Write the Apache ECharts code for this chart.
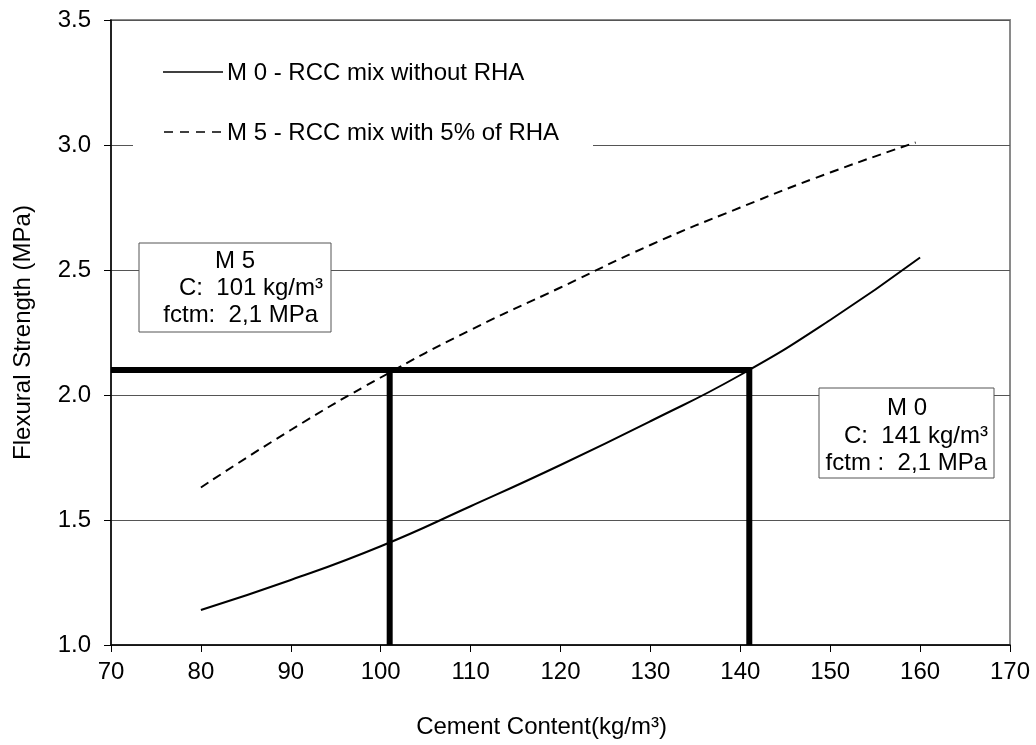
<!DOCTYPE html>
<html>
<head>
<meta charset="utf-8">
<script src="https://cdn.jsdelivr.net/npm/echarts@6/dist/echarts.min.js"></script>
<style>
  html, body { margin: 0; padding: 0; background: #fff; }
  #grafica { width: 1036px; height: 745px; }
</style>
</head>
<body>
<div id="grafica"></div>
<script>
// valores
const cementoM0 = [80, 90, 100, 110, 120, 130, 140, 150, 160];
const resistM0 = [1.14, 1.26, 1.395, 1.555, 1.72, 1.895, 2.08, 2.30, 2.55];
const cementoM5 = [80, 90, 100, 110, 120, 130, 140, 150, 159.5];
const resistM5 = [1.63, 1.86, 2.07, 2.26, 2.43, 2.60, 2.75, 2.89, 3.01];
const fctm = 2.1;
const cM5 = 101;
const cM0 = 141;
const xMin = 70, xMax = 170, xPaso = 10;
const yMin = 1.0, yMax = 3.5, yPaso = 0.5;
const nombres = ["M 0 - RCC mix without RHA", "M 5 - RCC mix with 5% of RHA"];

const fuente = "'Liberation Sans', Arial, sans-serif";
const tam = 24;

const juntar = (xs, ys) => xs.map((x, i) => [x, ys[i]]);

const texto = (t, x, y, align) => ({
  type: "text", x: x, y: y, z: 20,
  style: { text: t, fontFamily: fuente, fontSize: tam, fill: "#000", align: align, verticalAlign: "middle" }
});

const chart = echarts.init(document.querySelector("#grafica"));

chart.setOption({
  animation: false,
  backgroundColor: "#fff",
  grid: {
    left: 111, right: 26, top: 20, bottom: 100,
    show: true, borderColor: "#8a8a8a", borderWidth: 2
  },
  xAxis: {
    type: "value",
    min: xMin, max: xMax, interval: xPaso,
    name: "Cement Content(kg/m³)",
    nameLocation: "middle", nameGap: 70,
    nameTextStyle: { fontFamily: fuente, fontSize: tam, color: "#000", padding: [0, 38, 0, 0] },
    axisLine: { onZero: false, lineStyle: { color: "#000", width: 1.5 } },
    axisTick: { show: true, length: 7, lineStyle: { color: "#000" } },
    axisLabel: { margin: 15, fontFamily: fuente, fontSize: tam, color: "#000" },
    splitLine: { show: false }
  },
  yAxis: {
    type: "value",
    min: yMin, max: yMax, interval: yPaso,
    name: "Flexural Strength (MPa)",
    nameLocation: "middle", nameGap: 76, nameRotate: 90,
    nameTextStyle: { fontFamily: fuente, fontSize: tam, color: "#000" },
    axisLine: { show: true, onZero: false, lineStyle: { color: "#000", width: 1.5 } },
    axisTick: { show: true, length: 7, lineStyle: { color: "#000" } },
    axisLabel: {
      margin: 20, fontFamily: fuente, fontSize: tam, color: "#000",
      formatter: (v) => v.toFixed(1)
    },
    splitLine: { show: true, lineStyle: { color: "#555", width: 1.2 } }
  },
  series: [
    {
      name: nombres[0],
      type: "line",
      smooth: true,
      symbol: "none",
      data: juntar(cementoM0, resistM0),
      lineStyle: { color: "#000", width: 2, type: "solid" },
      z: 3
    },
    {
      name: nombres[1],
      type: "line",
      smooth: true,
      symbol: "none",
      data: juntar(cementoM5, resistM5),
      lineStyle: { color: "#000", width: 2, type: [9, 6] },
      z: 3
    },
    {
      name: "guia M0",
      type: "line",
      symbol: "none",
      data: [[xMin, fctm], [cM0, fctm], [cM0, yMin]],
      lineStyle: { color: "#000", width: 6, join: "miter" },
      z: 4
    },
    {
      name: "guia M5",
      type: "line",
      symbol: "none",
      data: [[cM5, fctm], [cM5, yMin]],
      lineStyle: { color: "#000", width: 6 },
      z: 4
    }
  ],
  graphic: [
    // leyenda
    { type: "rect", z: 10, shape: { x: 133, y: 42, width: 460, height: 112 }, style: { fill: "#fff" } },
    { type: "line", z: 11, shape: { x1: 163, y1: 72, x2: 223, y2: 72 }, style: { stroke: "#000", lineWidth: 1.6 } },
    { type: "line", z: 11, shape: { x1: 164, y1: 132, x2: 222, y2: 132 }, style: { stroke: "#000", lineWidth: 1.6, lineDash: [9, 7] } },
    texto(nombres[0], 227, 73, "left"),
    texto(nombres[1], 227, 133, "left"),
    // cuadro M5
    { type: "rect", z: 10, shape: { x: 139, y: 243, width: 192, height: 89 }, style: { fill: "#fff", stroke: "#555", lineWidth: 1 } },
    texto("M 5", 235, 261, "center"),
    texto("C:  101 kg/m³", 323, 288, "right"),
    texto("fctm:  2,1 MPa", 318, 315, "right"),
    // cuadro M0
    { type: "rect", z: 10, shape: { x: 819, y: 388, width: 175, height: 90 }, style: { fill: "#fff", stroke: "#555", lineWidth: 1 } },
    texto("M 0", 907, 408, "center"),
    texto("C:  141 kg/m³", 988, 436, "right"),
    texto("fctm :  2,1 MPa", 987, 463, "right")
  ]
});
</script>
</body>
</html>
